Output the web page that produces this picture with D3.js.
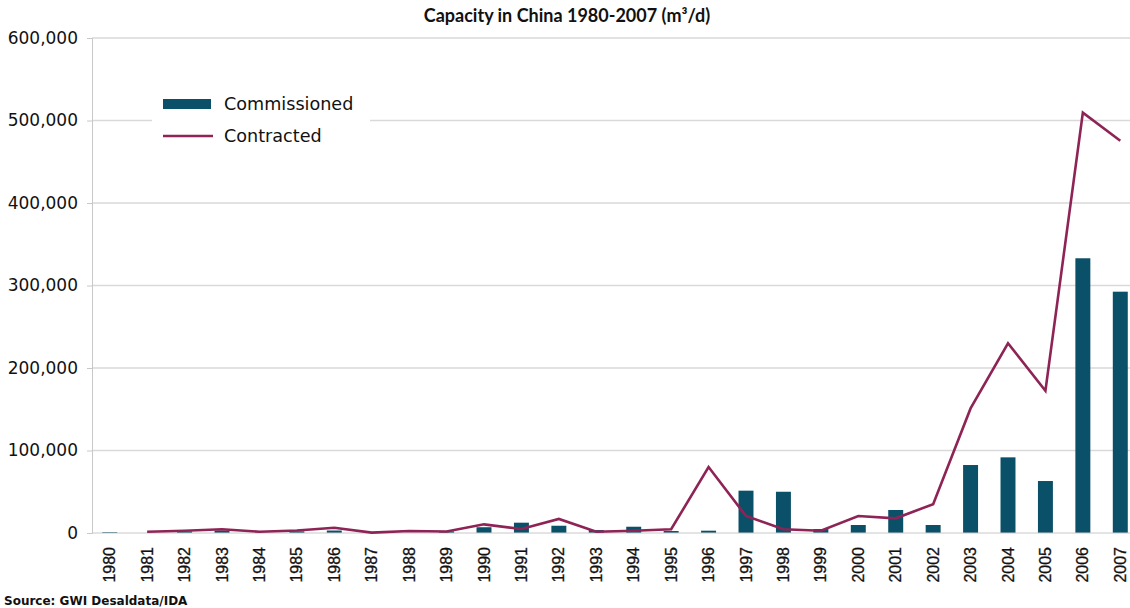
<!DOCTYPE html>
<html lang="en">
  <head>
    <meta charset="UTF-8" />
    <script src="https://d3js.org/d3.v7.min.js"></script>
    <style>
      body { margin: 0; background: #fff; }
      svg { display: block; }
    </style>
  </head>
  <body>
    <div id="chart"></div>
    <script>
      // data
      var years = ["1980","1981","1982","1983","1984","1985","1986","1987","1988","1989",
                   "1990","1991","1992","1993","1994","1995","1996","1997","1998","1999",
                   "2000","2001","2002","2003","2004","2005","2006","2007"];
      var commissioned = [1000, 0, 2000, 3000, 0, 2000, 3000, 0, 0, 2000,
                          7000, 12500, 8800, 3600, 7600, 2400, 2800, 51300, 50000, 4800,
                          9700, 27900, 9700, 82400, 91700, 63000, 333000, 292500];
      var contracted = [null, 1600, 2800, 4500, 1500, 3000, 6400, 500, 2400, 1800,
                        10500, 4800, 17000, 1600, 2800, 4500, 80000, 20600, 4500, 2800,
                        20600, 17800, 35000, 151000, 230000, 172500, 509500, 475500];
      var yTicks = [0, 100000, 200000, 300000, 400000, 500000, 600000];

      var width = 1130, height = 608;
      var svg = d3.select("#chart").append("svg")
        .attr("width", width).attr("height", height);

      var x = d3.scaleBand().domain(years).range([91, 1139]).paddingInner(0.6).paddingOuter(0.3);
      var y = d3.scaleLinear().domain([0, 600000]).range([533, 38]);

      // gridlines
      svg.append("g").selectAll("line")
        .data(yTicks.slice(1))
        .enter().append("line")
        .attr("x1", 92).attr("x2", width)
        .attr("y1", d => y(d)).attr("y2", d => y(d))
        .attr("stroke", "#d9d9d9").attr("stroke-width", 1.5);

      // y axis
      var yAxis = svg.append("g")
        .attr("transform", "translate(92,0)")
        .call(d3.axisLeft(y).tickValues(yTicks).tickSize(5).tickPadding(9)
          .tickFormat(d3.format(",")));
      yAxis.select(".domain").attr("stroke", "#c8c8c8");
      yAxis.selectAll(".tick line").attr("stroke", "#c8c8c8");
      yAxis.selectAll("text")
        .attr("font-family", "DejaVu Sans").attr("font-size", 17).attr("fill", "#111");

      // bars
      svg.append("g").selectAll("rect")
        .data(years)
        .enter().append("rect")
        .attr("x", d => x(d))
        .attr("width", x.bandwidth())
        .attr("y", (d, i) => y(commissioned[i]))
        .attr("height", (d, i) => y(0) - y(commissioned[i]))
        .attr("fill", "#0b5069");

      // x axis
      var xAxis = svg.append("g")
        .attr("transform", "translate(0,533)")
        .call(d3.axisBottom(x).tickSize(0).tickPadding(0));
      xAxis.select(".domain").attr("stroke", "#c8c8c8").attr("d", "M92,0H" + width);
      xAxis.selectAll("text")
        .attr("font-family", "Liberation Sans").attr("font-size", 16).attr("fill", "#111")
        .attr("stroke", "#111").attr("stroke-width", 0.3)
        .attr("transform", "rotate(-90)")
        .attr("x", -14).attr("y", 0).attr("dy", "0.35em")
        .style("text-anchor", "end");

      // contracted line
      var line = d3.line()
        .defined(d => d[1] !== null)
        .x(d => x(d[0]) + x.bandwidth() / 2)
        .y(d => y(d[1]));
      svg.append("path")
        .datum(years.map((d, i) => [d, contracted[i]]))
        .attr("d", line)
        .attr("fill", "none")
        .attr("stroke", "#8e2455")
        .attr("stroke-width", 2.6)
        .attr("stroke-linejoin", "miter");

      // legend
      var legend = svg.append("g");
      legend.append("rect").attr("x", 152).attr("y", 86).attr("width", 218).attr("height", 64).attr("fill", "#fff");
      legend.append("rect").attr("x", 163).attr("y", 99).attr("width", 48).attr("height", 10).attr("fill", "#0b5069");
      legend.append("line").attr("x1", 163).attr("x2", 213).attr("y1", 136).attr("y2", 136)
        .attr("stroke", "#8e2455").attr("stroke-width", 2.6);
      legend.append("text").attr("x", 224).attr("y", 110).text("Commissioned")
        .attr("font-family", "DejaVu Sans").attr("font-size", 17.6).attr("fill", "#111");
      legend.append("text").attr("x", 224).attr("y", 142).text("Contracted")
        .attr("font-family", "DejaVu Sans").attr("font-size", 17.6).attr("fill", "#111");

      // title
      svg.append("text")
        .attr("x", 567).attr("y", 22)
        .attr("text-anchor", "middle")
        .attr("font-family", "Lato").attr("font-weight", "bold").attr("font-size", 18)
        .attr("fill", "#111")
        .text("Capacity in China 1980-2007 (m³/d)");

      // source
      svg.append("text")
        .attr("x", 4).attr("y", 605)
        .attr("font-family", "DejaVu Sans").attr("font-weight", "bold").attr("font-size", 12)
        .attr("fill", "#111")
        .text("Source: GWI Desaldata/IDA");
    </script>
  </body>
</html>
